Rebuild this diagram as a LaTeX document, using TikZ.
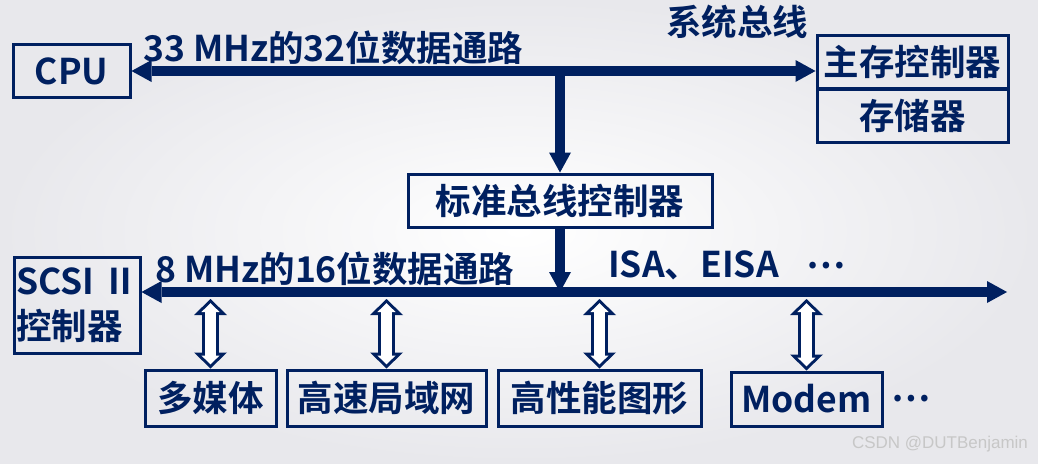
\documentclass[tikz,border=0pt]{standalone}
\usepackage{fontspec}
\usetikzlibrary{arrows.meta,positioning}
\newfontfamily\cjk{Noto Sans CJK SC}[BoldFont={* Bold}]
\newfontfamily\wmark{Liberation Sans}
\definecolor{busnavy}{HTML}{002060}
\definecolor{slideedge}{HTML}{E8E8EC}

\begin{document}
\begin{tikzpicture}[x=1pt,y=-1pt,
  unit/.style={draw=busnavy,line width=3pt,minimum height=53pt,inner sep=0pt,align=center,text=busnavy,font=\cjk\bfseries\fontsize{35.5}{45}\selectfont},
  lbl/.style={inner sep=0pt,text=busnavy,font=\cjk\bfseries\fontsize{35.5}{40}\selectfont},
  busline/.style={draw=busnavy,line width=10pt},
  bustip/.tip={Triangle[length=20pt,width=22pt,line width=0pt]},
  iolink/.style={draw=busnavy,line width=17pt,
    {Triangle[length=16pt,width=33pt,line width=0pt]}-{Triangle[length=16pt,width=33pt,line width=0pt]},
    postaction={draw=white,line width=11pt,shorten <=4.2pt,shorten >=4.2pt,
      {Triangle[length=8.8pt,width=18.2pt,line width=0pt]}-{Triangle[length=8.8pt,width=18.2pt,line width=0pt]}}}
]
\useasboundingbox (0,0) rectangle (1038,463);
\shade[inner color=white,outer color=slideedge] (0,0) rectangle (1038,463);

\node[unit,minimum width=117pt] (cpu) at (71.5,71) {CPU};
\node[unit,minimum width=191pt] (memctl) at (912.5,61.5) {主存控制器};
\node[unit,minimum width=191pt,below=-1.5pt of memctl] (mem) {存储器};
\node[unit,minimum width=304pt] (std) at (560,200.5) {标准总线控制器};
\node[unit,minimum width=126pt,minimum height=96pt,align=left] (scsi) at (77,305) {SCSI Ⅱ\\控制器};

\node[unit,minimum width=131pt,minimum height=56pt] (mm) at (210.5,398) {多媒体};
\node[unit,minimum width=199pt,minimum height=56pt] (lan) at (386.5,398) {高速局域网};
\node[unit,minimum width=203pt,minimum height=56pt] (gfx) at (599.5,398) {高性能图形};
\node[unit,minimum width=151pt,minimum height=54pt] (modem) at (806.5,399) {Modem};
\node[lbl,right=8pt of modem] (more) {…};

\node[lbl,anchor=base west] (fast) at (143,61) {33 MHz的32位数据通路};
\node[lbl] (sysbus) at (737,22) {系统总线};
\node[lbl,anchor=base west] (slow) at (155,282) {8 MHz的16位数据通路};
\node[lbl,anchor=base west] (isa) at (608,277) {ISA、EISA\hspace{28pt}\raisebox{9pt}{…}};

\coordinate (lbusend) at (1007,292);
\coordinate[below=7pt of lbusend] (lbusbot);

\draw[busline,-{bustip}] (cpu.east -| std.north) -- (std.north);
\draw[busline,{bustip}-{bustip}] (cpu.east) -- (memctl.west |- cpu.east);
\draw[busline,-{bustip}] (std.south) -- (std.south |- lbusend);
\draw[busline,{bustip}-{bustip}] (scsi.east |- lbusend) -- (lbusend);

\foreach \io in {mm,lan,gfx,modem}
  \draw[iolink] (\io.north |- lbusbot) -- (\io.north);

\node[text=black!22,font=\wmark\fontsize{17}{20}\selectfont] (wm) at (940,444) {CSDN @DUTBenjamin};
\end{tikzpicture}
\end{document}
